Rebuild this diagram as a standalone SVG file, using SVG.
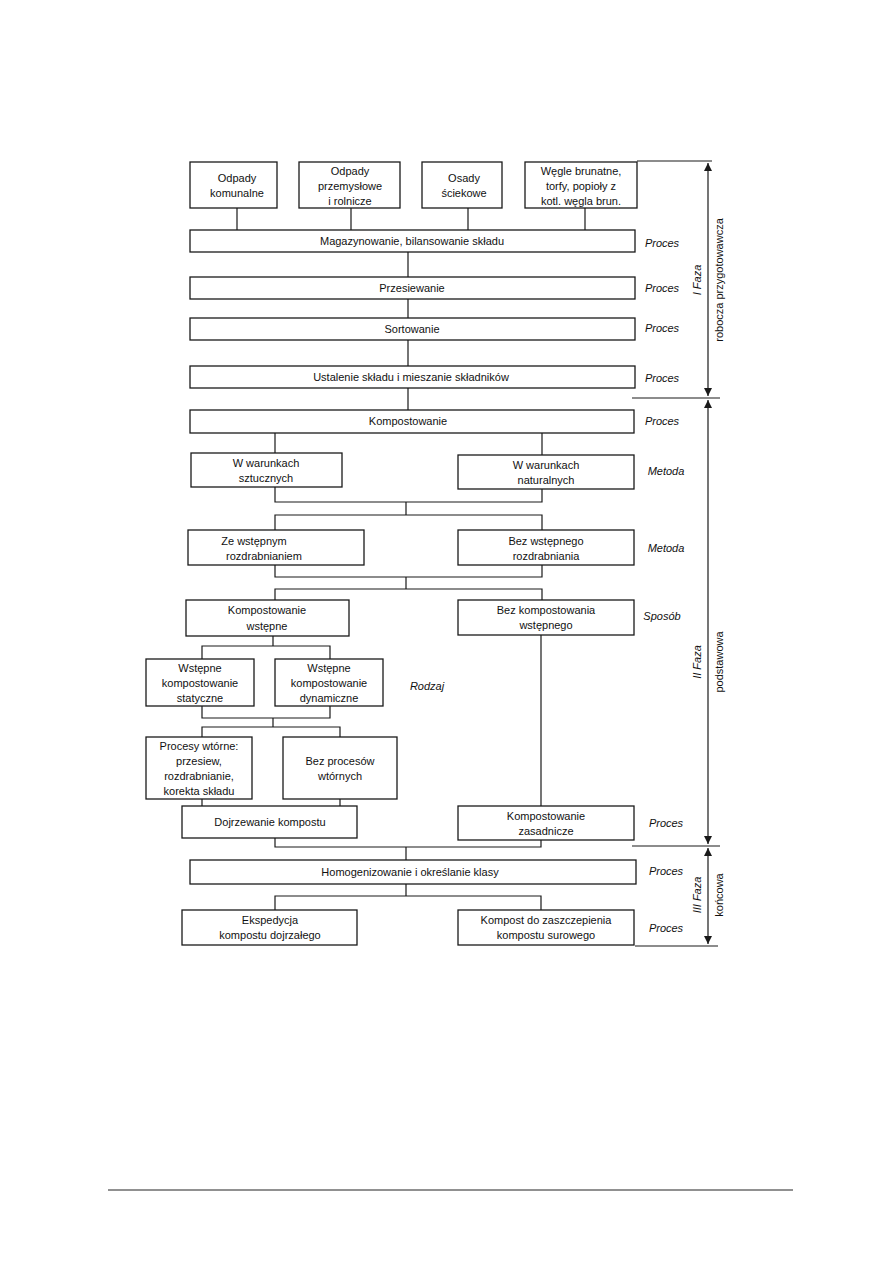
<svg xmlns="http://www.w3.org/2000/svg" width="893" height="1263" viewBox="0 0 893 1263">
<defs>
<style>
.box{fill:#fff;stroke:#1a1a1a;stroke-width:1.3}
.ln{fill:none;stroke:#1a1a1a;stroke-width:1.2}
.t{font-family:"Liberation Sans",Arial,sans-serif;font-size:11px;fill:#111;text-anchor:middle}
.lab{font-family:"Liberation Sans",Arial,sans-serif;font-size:11px;font-style:italic;fill:#111;text-anchor:middle}
.ph{font-family:"Liberation Sans",Arial,sans-serif;font-size:11px;fill:#111;text-anchor:middle}
</style>
<marker id="ah" viewBox="0 0 8 10" refX="8" refY="5" markerWidth="8" markerHeight="10" markerUnits="userSpaceOnUse" orient="auto-start-reverse">
<path d="M0,1 L8,5 L0,9 Z" fill="#1a1a1a"/>
</marker>
</defs>
<rect width="893" height="1263" fill="#fff"/>

<g id="connectors">
<path class="ln" d="M237,208V230 M351,208V230 M468,208V230 M585,208V230"/>
<path class="ln" d="M408,252V277 M408,299V318 M408,340V366 M408,388V410"/>
<path class="ln" d="M275,433V453 M542,433V455"/>
<path class="ln" d="M275,487V502H542V489 M406,502V515 M275,530V515H542V530"/>
<path class="ln" d="M275,565V577H542V565 M406,577V589 M275,600V589H542V600"/>
<path class="ln" d="M273,636V646 M202,659V646H330V659"/>
<path class="ln" d="M202,706V718H330V706 M273,718V727 M202,737V727H340V737"/>
<path class="ln" d="M202,799V806 M340,799V806"/>
<path class="ln" d="M541,635V806"/>
<path class="ln" d="M275,838V847H541V840 M406,847V860"/>
<path class="ln" d="M406,884V896 M275,910V896H541V910"/>
</g>

<g id="phases">
<path class="ln" d="M637,161H712 M632,398H720 M632,846H720 M635,946H718"/>
<line class="ln" x1="708" y1="163" x2="708" y2="396" marker-start="url(#ah)" marker-end="url(#ah)"/>
<line class="ln" x1="708" y1="400" x2="708" y2="844" marker-start="url(#ah)" marker-end="url(#ah)"/>
<line class="ln" x1="708" y1="848" x2="708" y2="944" marker-start="url(#ah)" marker-end="url(#ah)"/>
<text class="lab" transform="translate(701,280) rotate(-90)">I Faza</text>
<text class="ph" transform="translate(723,280) rotate(-90)">robocza przygotowawcza</text>
<text class="lab" transform="translate(701,662) rotate(-90)">II Faza</text>
<text class="ph" transform="translate(723,662) rotate(-90)">podstawowa</text>
<text class="lab" transform="translate(701,895) rotate(-90)">III Faza</text>
<text class="ph" transform="translate(723,895) rotate(-90)">końcowa</text>
</g>

<g id="labels">
<text class="lab" x="662" y="247">Proces</text>
<text class="lab" x="662" y="292">Proces</text>
<text class="lab" x="662" y="332">Proces</text>
<text class="lab" x="662" y="382">Proces</text>
<text class="lab" x="662" y="425">Proces</text>
<text class="lab" x="666" y="475">Metoda</text>
<text class="lab" x="666" y="552">Metoda</text>
<text class="lab" x="662" y="620">Sposób</text>
<text class="lab" x="427" y="690">Rodzaj</text>
<text class="lab" x="666" y="827">Proces</text>
<text class="lab" x="666" y="875">Proces</text>
<text class="lab" x="666" y="932">Proces</text>
</g>

<g id="n1"><rect class="box" x="190" y="162" width="87" height="46"/><text class="t" x="237" y="182">Odpady</text><text class="t" x="237" y="197">komunalne</text></g>
<g id="n2"><rect class="box" x="299" y="162" width="101" height="46"/><text class="t" x="350" y="175">Odpady</text><text class="t" x="350" y="190">przemysłowe</text><text class="t" x="350" y="205">i rolnicze</text></g>
<g id="n3"><rect class="box" x="422" y="162" width="80" height="46"/><text class="t" x="464" y="182">Osady</text><text class="t" x="464" y="197">ściekowe</text></g>
<g id="n4"><rect class="box" x="525" y="162" width="112" height="46"/><text class="t" x="581" y="175">Węgle brunatne,</text><text class="t" x="581" y="190">torfy, popioły z</text><text class="t" x="581" y="205">kotl. węgla brun.</text></g>

<g id="n5"><rect class="box" x="190" y="230" width="445" height="22"/><text class="t" x="412" y="245">Magazynowanie, bilansowanie składu</text></g>
<g id="n6"><rect class="box" x="190" y="277" width="445" height="22"/><text class="t" x="412" y="292">Przesiewanie</text></g>
<g id="n7"><rect class="box" x="190" y="318" width="445" height="22"/><text class="t" x="412" y="333">Sortowanie</text></g>
<g id="n8"><rect class="box" x="190" y="366" width="445" height="22"/><text class="t" x="411" y="381">Ustalenie składu i mieszanie składników</text></g>
<g id="n9"><rect class="box" x="190" y="410" width="444" height="23"/><text class="t" x="408" y="425">Kompostowanie</text></g>

<g id="n10"><rect class="box" x="191" y="453" width="151" height="34"/><text class="t" x="266" y="467">W warunkach</text><text class="t" x="266" y="482">sztucznych</text></g>
<g id="n11"><rect class="box" x="458" y="455" width="176" height="34"/><text class="t" x="546" y="469">W warunkach</text><text class="t" x="546" y="484">naturalnych</text></g>
<g id="n12"><rect class="box" x="188" y="530" width="176" height="35"/><text class="t" x="254" y="545">Ze wstępnym</text><text class="t" x="264" y="560">rozdrabnianiem</text></g>
<g id="n13"><rect class="box" x="458" y="530" width="176" height="35"/><text class="t" x="546" y="545">Bez wstępnego</text><text class="t" x="546" y="560">rozdrabniania</text></g>
<g id="n14"><rect class="box" x="186" y="600" width="163" height="36"/><text class="t" x="267" y="614">Kompostowanie</text><text class="t" x="267" y="630">wstępne</text></g>
<g id="n15"><rect class="box" x="458" y="600" width="176" height="35"/><text class="t" x="546" y="614">Bez kompostowania</text><text class="t" x="546" y="629">wstępnego</text></g>

<g id="n16"><rect class="box" x="146" y="659" width="108" height="47"/><text class="t" x="200" y="672">Wstępne</text><text class="t" x="200" y="687">kompostowanie</text><text class="t" x="200" y="702">statyczne</text></g>
<g id="n17"><rect class="box" x="275" y="659" width="108" height="47"/><text class="t" x="329" y="672">Wstępne</text><text class="t" x="329" y="687">kompostowanie</text><text class="t" x="329" y="702">dynamiczne</text></g>
<g id="n18"><rect class="box" x="146" y="737" width="106" height="62"/><text class="t" x="199" y="750">Procesy wtórne:</text><text class="t" x="199" y="765">przesiew,</text><text class="t" x="199" y="780">rozdrabnianie,</text><text class="t" x="199" y="795">korekta składu</text></g>
<g id="n19"><rect class="box" x="283" y="737" width="114" height="62"/><text class="t" x="340" y="765">Bez procesów</text><text class="t" x="340" y="780">wtórnych</text></g>
<g id="n20"><rect class="box" x="182" y="806" width="175" height="32"/><text class="t" x="270" y="826">Dojrzewanie kompostu</text></g>
<g id="n21"><rect class="box" x="458" y="806" width="176" height="34"/><text class="t" x="546" y="820">Kompostowanie</text><text class="t" x="546" y="835">zasadnicze</text></g>

<g id="n22"><rect class="box" x="190" y="860" width="446" height="24"/><text class="t" x="410" y="876">Homogenizowanie i określanie klasy</text></g>
<g id="n23"><rect class="box" x="182" y="910" width="175" height="35"/><text class="t" x="270" y="924">Ekspedycja</text><text class="t" x="270" y="939">kompostu dojrzałego</text></g>
<g id="n24"><rect class="box" x="458" y="910" width="176" height="35"/><text class="t" x="546" y="924">Kompost do zaszczepienia</text><text class="t" x="546" y="939">kompostu surowego</text></g>

<g id="footer"><line x1="108" y1="1190" x2="793" y2="1190" stroke="#222" stroke-width="1"/></g>
</svg>
